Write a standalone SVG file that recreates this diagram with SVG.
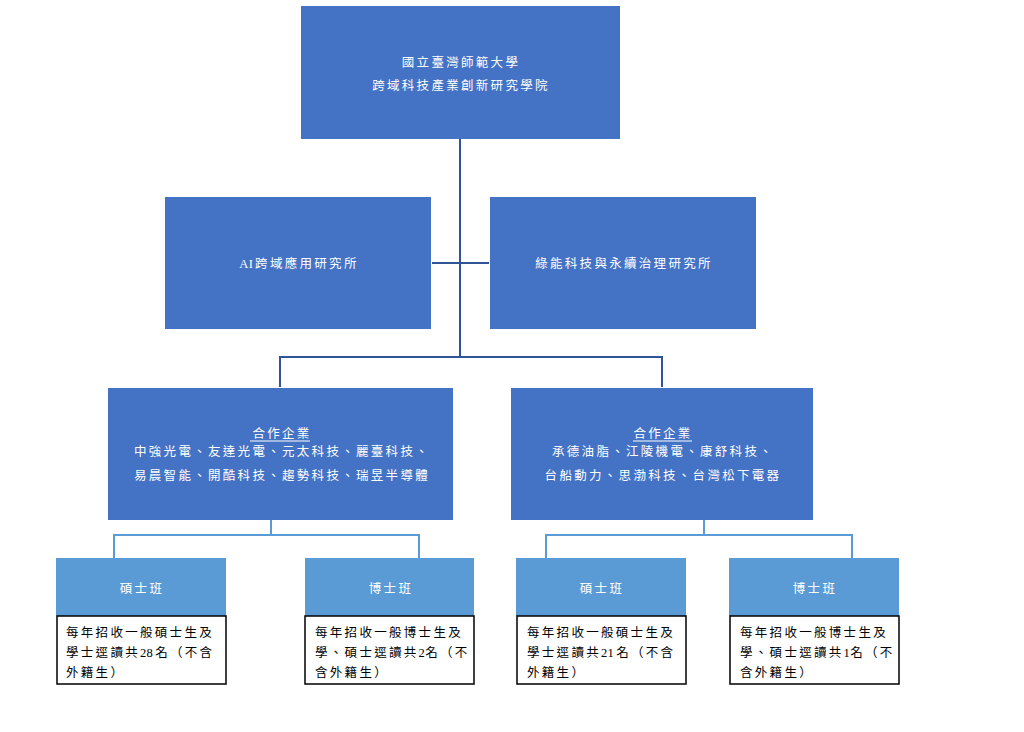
<svg xmlns="http://www.w3.org/2000/svg" width="1024" height="732" viewBox="0 0 1024 732">
<style>
.main{fill:#4472C4;}
.sub{fill:#5B9BD5;}
.note{fill:#FFFFFF;stroke:#000000;stroke-width:1.5;}
text{font-family:"Liberation Serif","Noto Sans CJK TC","Noto Sans CJK SC",serif;font-size:12.5px;letter-spacing:2.3px;}
.t{letter-spacing:0.3px;}
.w{fill:#FFFFFF;text-anchor:middle;}
.b{fill:#000000;}
.c1{stroke:#2F5597;stroke-width:2;fill:none;}
.c2{stroke:#5B9BD5;stroke-width:2;fill:none;}
</style>
<rect width="1024" height="732" fill="#FFFFFF"/>
<g id="connectors">
<path class="c1" d="M460 139 V357 M432 263 H489 M280 387 V357 H662 V387"/>
<path class="c2" d="M271 512 V535 M114 558 V535 H419 V558"/>
<path class="c2" d="M704 512 V535 M546 558 V535 H852 V558"/>
</g>
<g id="top">
<rect class="main" x="301" y="6" width="319" height="133"/>
<text class="w" x="461" y="67">國立臺灣師範大學</text>
<text class="w" x="461" y="90">跨域科技產業創新研究學院</text>
</g>
<g id="ai">
<rect class="main" x="165" y="197" width="266" height="132"/>
<text class="w" x="299" y="268"><tspan class="t">A</tspan>I跨域應用研究所</text>
</g>
<g id="green">
<rect class="main" x="490" y="197" width="266" height="132"/>
<text class="w" x="624" y="268">綠能科技與永續治理研究所</text>
</g>
<g id="coop-left">
<rect class="main" x="108" y="388" width="345" height="132"/>
<text class="w" x="282" y="438">合作企業</text>
<line x1="250" y1="441" x2="310" y2="441" stroke="#FFFFFF" stroke-width="1"/>
<text class="w" x="282" y="456">中強光電、友達光電、元太科技、麗臺科技、</text>
<text class="w" x="282" y="480">易晨智能、開酷科技、趨勢科技、瑞昱半導體</text>
</g>
<g id="coop-right">
<rect class="main" x="511" y="388" width="302" height="132"/>
<text class="w" x="663" y="438">合作企業</text>
<line x1="633" y1="441" x2="692" y2="441" stroke="#FFFFFF" stroke-width="1"/>
<text class="w" x="663" y="456">承德油脂、江陵機電、康舒科技、</text>
<text class="w" x="663" y="480">台船動力、思渤科技、台灣松下電器</text>
</g>
<g id="ms-left">
<rect class="sub" x="56" y="558" width="170" height="58"/>
<text class="w" x="142" y="593">碩士班</text>
<rect class="note" x="57" y="616" width="169" height="68"/>
<text class="b" x="66" y="637">每年招收一般碩士生及</text>
<text class="b" x="66" y="657">學士逕讀共<tspan class="t">2</tspan>8名（不含</text>
<text class="b" x="66" y="677">外籍生）</text>
</g>
<g id="phd-left">
<rect class="sub" x="305" y="558" width="169" height="58"/>
<text class="w" x="391" y="593">博士班</text>
<rect class="note" x="305" y="616" width="169" height="68"/>
<text class="b" x="315" y="637">每年招收一般博士生及</text>
<text class="b" x="315" y="657">學、碩士逕讀共<tspan class="t">2</tspan>名（不</text>
<text class="b" x="315" y="677">含外籍生）</text>
</g>
<g id="ms-right">
<rect class="sub" x="516" y="558" width="170" height="58"/>
<text class="w" x="602" y="593">碩士班</text>
<rect class="note" x="517" y="616" width="169" height="68"/>
<text class="b" x="527" y="637">每年招收一般碩士生及</text>
<text class="b" x="527" y="657">學士逕讀共<tspan class="t">2</tspan>1名（不含</text>
<text class="b" x="527" y="677">外籍生）</text>
</g>
<g id="phd-right">
<rect class="sub" x="729" y="558" width="170" height="58"/>
<text class="w" x="815" y="593">博士班</text>
<rect class="note" x="730" y="616" width="169" height="68"/>
<text class="b" x="740" y="637">每年招收一般博士生及</text>
<text class="b" x="740" y="657">學、碩士逕讀共<tspan class="t">1</tspan>名（不</text>
<text class="b" x="740" y="677">含外籍生）</text>
</g>
</svg>
